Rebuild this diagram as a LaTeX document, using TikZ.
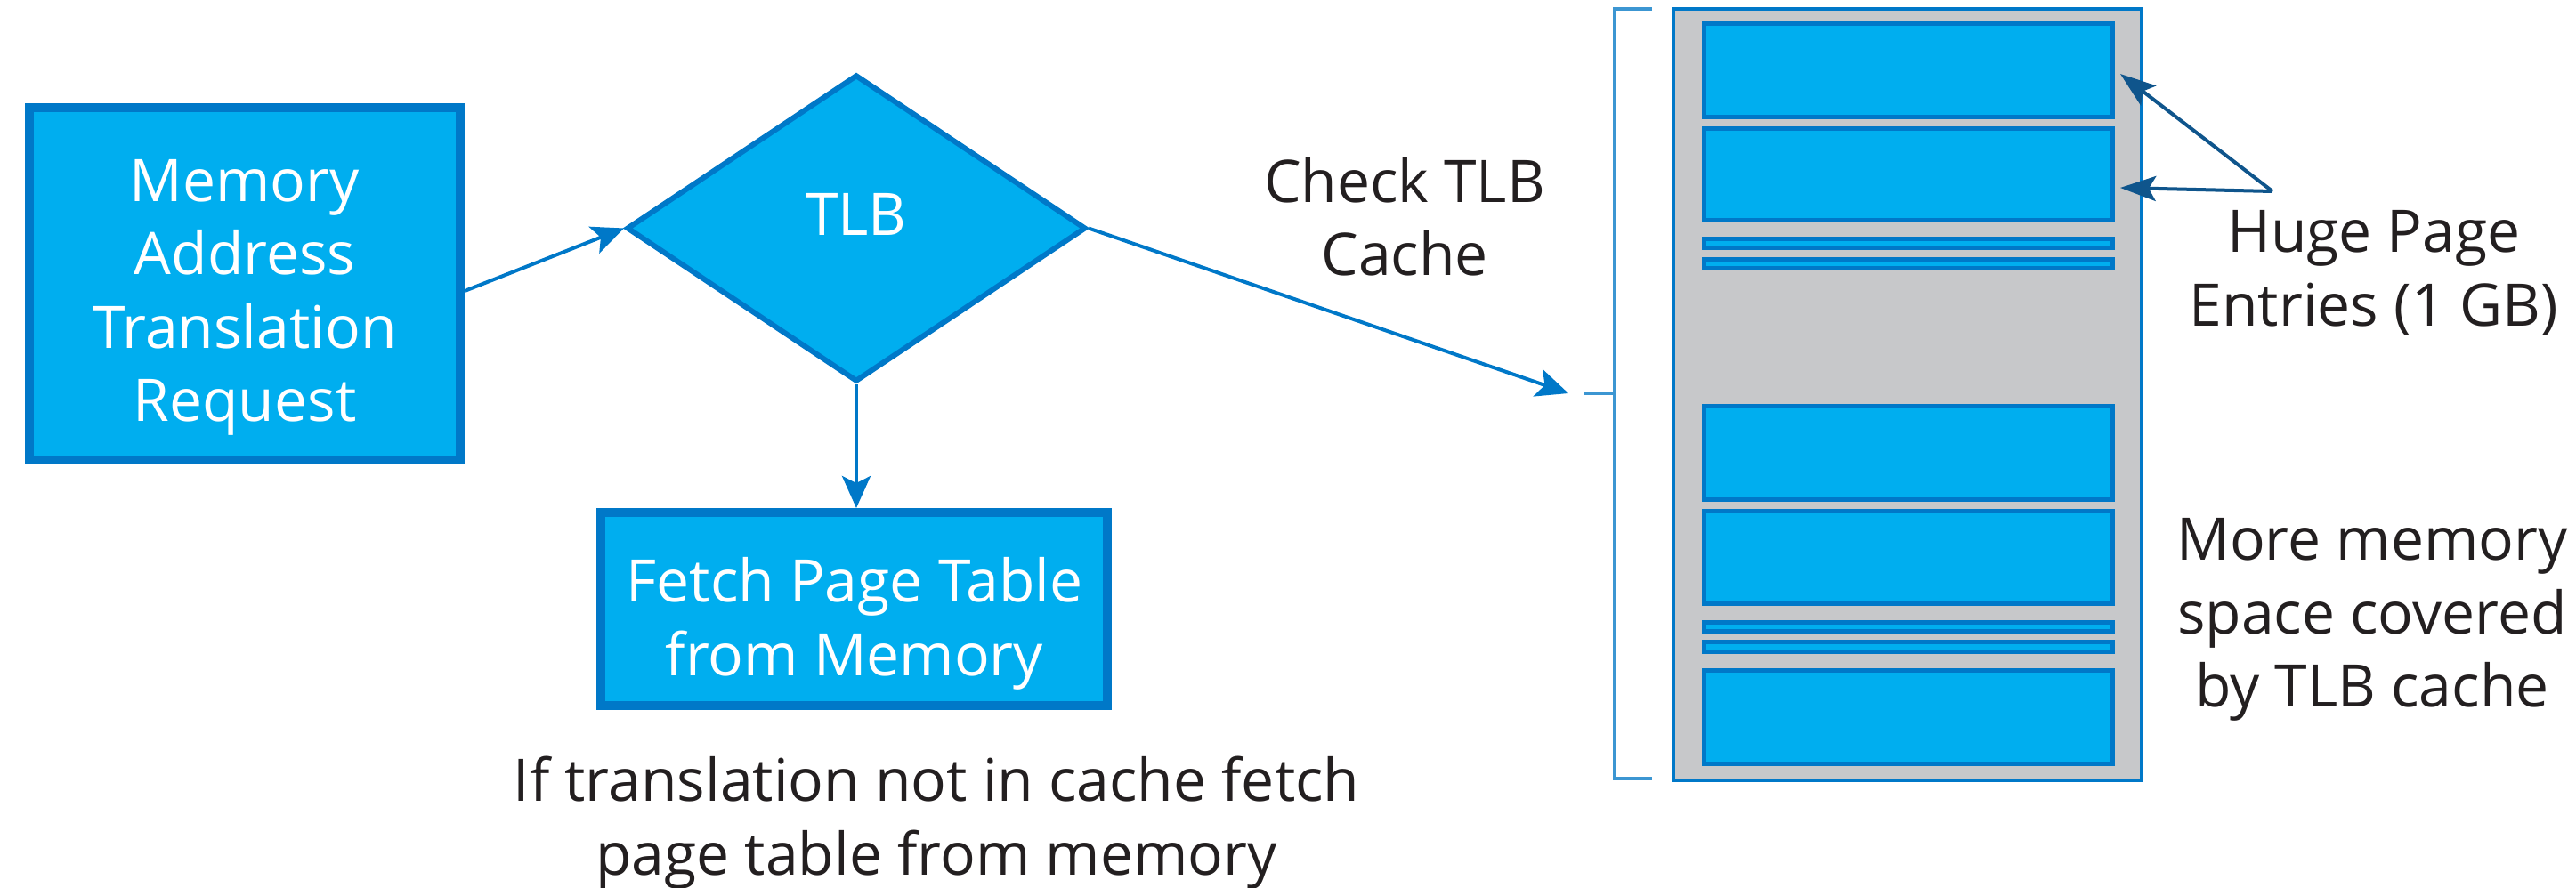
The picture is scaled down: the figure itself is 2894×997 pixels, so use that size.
\documentclass[tikz,border=0pt]{standalone}
\usepackage{fontspec}
\setmainfont{Open Sans}
\usetikzlibrary{shapes.geometric,arrows.meta}
\definecolor{TlbFill}{RGB}{0,174,239}
\definecolor{TlbEdge}{RGB}{0,120,200}
\definecolor{TlbGray}{RGB}{199,200,202}
\definecolor{TlbBracket}{RGB}{60,150,210}
\definecolor{TlbDark}{RGB}{15,85,140}
\definecolor{TlbText}{RGB}{35,31,32}
\newcommand{\tlbfont}{\fontsize{16.5}{20.6}\selectfont}

\begin{document}
\begin{tikzpicture}[x=0.25pt,y=-0.25pt,
  blk/.style={rectangle,draw=TlbEdge,fill=TlbFill,line width=2.5pt,inner sep=0pt},
  dia/.style={diamond,draw=TlbEdge,fill=TlbFill,line width=1.5pt,inner sep=0pt,minimum width=129pt,minimum height=86.25pt},
  panel/.style={rectangle,draw=TlbEdge,fill=TlbGray,line width=1pt,inner sep=0pt},
  entry/.style={rectangle,draw=TlbEdge,fill=TlbFill,line width=1.2pt,inner sep=0pt,minimum width=114.8pt},
  wtxt/.style={font=\tlbfont,text=white,align=center,inner sep=0pt},
  dtxt/.style={font=\tlbfont,text=TlbText,align=center,inner sep=0pt},
  conn/.style={draw=TlbEdge,line width=1pt,-{Stealth[length=9pt,width=8pt,inset=2pt]}},
  hugearr/.style={draw=TlbDark,line width=1pt,-{Stealth[length=10pt,width=7pt,inset=2pt]}},
  brk/.style={draw=TlbBracket,line width=1pt}]
\useasboundingbox (0,0) rectangle (2894,997);

% flow chart
\node[blk,minimum width=121pt,minimum height=99pt] (req) at (275,319) {};
\node[wtxt] (reqtxt) at (275,334.5) {Memory\\Address\\Translation\\Request};
\node[dia] (tlb) at (962,256.5) {};
\node[wtxt] (tlbtxt) at (962,241) {TLB};
\node[blk,minimum width=142.25pt,minimum height=54.25pt] (fetch) at (959.5,684.5) {};
\node[wtxt] (fetchtxt) at (960,701) {Fetch Page Table\\from Memory};
\node[dtxt] (miss) at (1052,924.5) {If translation not in cache fetch\\page table from memory};
\node[dtxt] (check) at (1578,243.5) {Check TLB\\Cache};

\draw[conn] ([yshift=-2pt]req.east) -- (tlb.west);
\draw[conn] (tlb.south) -- (tlb.south |- fetch.north);
\coordinate (chkend) at (1762,442);
\draw[conn] (tlb.east) -- (chkend);

% TLB cache
\draw[brk] (1856,10) -- (1814,10) -- (1814,875) -- (1856,875);
\draw[brk] (1780,442) -- (1814,442);
\node[panel,minimum width=131.5pt,minimum height=216.75pt] (cache) at (2143,443.5) {};
\foreach \ename/\ey/\eh in {e1/79/26.3,e2/196/25.8,t1/273.5/2.4,t2/296.5/2.6,%
    e3/509/26.3,e4/626.5/26,t3/704.5/2.6,t4/727/2.8,e5/806/26.3} {
  \node[entry,minimum height=\eh pt] (\ename) at (2144,\ey) {};
}

\coordinate (hub) at (2553,215);
\draw[hugearr] (hub) -- ([xshift=1.5pt,yshift=-1pt]e1.east);
\draw[hugearr] (hub) -- ([xshift=1.5pt,yshift=-3.75pt]e2.east);
\node[dtxt] (huge) at (2667,306.5) {Huge Page\\Entries (1 GB)};
\node[dtxt] (more) at (2665,696.5) {More memory\\space covered\\by TLB cache};
\end{tikzpicture}
\end{document}
